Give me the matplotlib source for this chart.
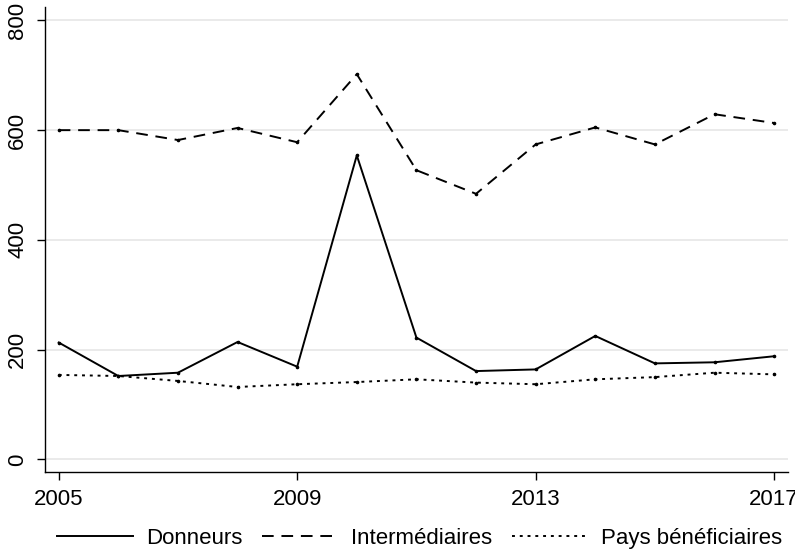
import matplotlib
matplotlib.use("Agg")
import matplotlib.pyplot as plt

plt.rcParams['font.family'] = ['Liberation Sans', 'DejaVu Sans']

years = list(range(2005, 2018))
donneurs = [213, 152, 158, 214, 169, 554, 222, 161, 164, 225, 175, 177, 188]
intermediaires = [600, 600, 582, 604, 578, 702, 527, 484, 574, 605, 574, 629, 613]
pays_benef = [154, 152, 143, 132, 137, 141, 146, 140, 137, 146, 150, 158, 155]

labels = ["Donneurs", "Intermédiaires", "Pays bénéficiaires"]
xticks = [2005, 2009, 2013, 2017]
yticks = [0, 200, 400, 600, 800]

fig = plt.figure(figsize=(7.95, 5.56), dpi=100)
ax = fig.add_axes([0.0566, 0.151, 0.9344, 0.836])

styles = ['-', (0, (6, 4)), (0, (1.5, 2.5))]
for vals, lab, st in zip([donneurs, intermediaires, pays_benef], labels, styles):
    ax.plot(years, vals, color='black', lw=1.4, ls=st, label=lab)
    # tiny dots at each observation
    ax.plot(years, vals, color='black', ls='none', marker='o', ms=1.6)

ax.set_xlim(2004.77, 2017.23)
ax.set_ylim(-23, 824)
ax.set_xticks(xticks)
ax.set_yticks(yticks)
ax.set_yticklabels([str(v) for v in yticks], rotation=90, va='center')
ax.tick_params(axis='both', labelsize=16, length=6, width=1, pad=6, color='black')
ax.grid(axis='y', color='#e6e6e6', lw=1.2)
ax.set_axisbelow(True)
for s in ['top', 'right']:
    ax.spines[s].set_visible(False)
for s in ['left', 'bottom']:
    ax.spines[s].set_linewidth(1)

fig.legend(loc='center', bbox_to_anchor=(0.528, 0.032), ncol=3, frameon=False,
           fontsize=16, handlelength=3.4, columnspacing=0.9, handletextpad=0.6)

fig.savefig("out.png", dpi=100)
